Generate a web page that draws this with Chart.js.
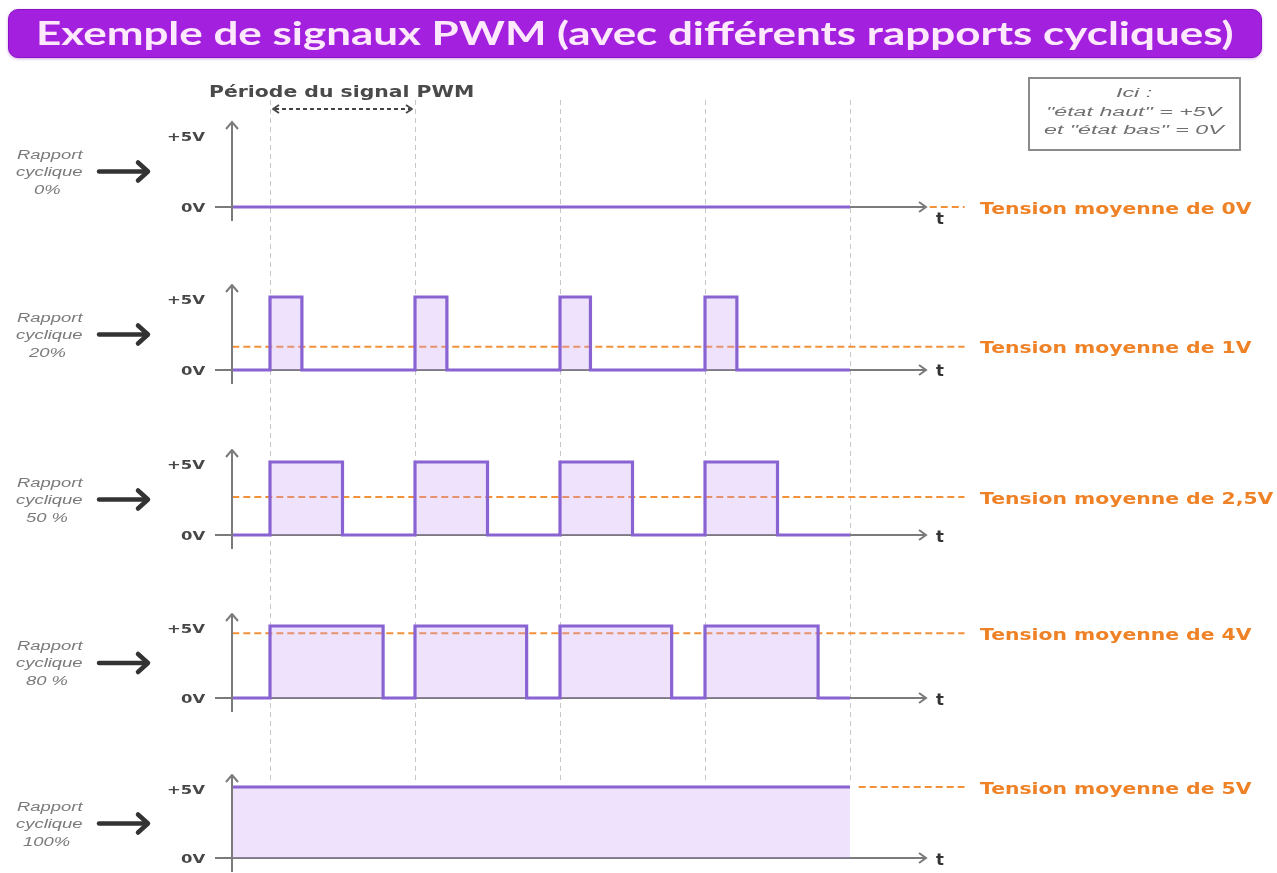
<!DOCTYPE html>
<html lang="fr">
<head>
<meta charset="utf-8">
<title>Exemple de signaux PWM</title>
<script src="https://cdn.jsdelivr.net/npm/chart.js@4.4.1/dist/chart.umd.min.js"></script>
<style>
  html, body { margin: 0; padding: 0; background: #ffffff; overflow: hidden; }
  #wrap { position: relative; width: 1277px; height: 873px; }
  #c { position: absolute; left: 0; top: 0; }
  #overlay { position: absolute; left: 0; top: 0; width: 1277px; height: 873px; pointer-events: none; }
  .txt { position: absolute; white-space: nowrap; line-height: 1.2; transform-origin: 0 50%; }
  .title { font-family: Lato, "Open Sans", sans-serif; font-weight: 700; font-size: 32px; color: #fde8fc; }
  .bar { position: absolute; left: 8px; top: 9px; width: 1252px; height: 47px; background: #a320de;
         border: 1px solid #8c12c6; border-radius: 10px; box-shadow: 0 1px 3px rgba(120,0,160,0.35); }
  .period { font-family: "DejaVu Sans", sans-serif; font-weight: 700; font-size: 15px; color: #4a4a4a; }
  .side { font-family: "Liberation Sans", sans-serif; font-style: italic; font-size: 12px; color: #7a7a7a; }
  .tick { font-family: "DejaVu Sans", sans-serif; font-weight: 700; font-size: 13px; color: #474747; }
  .tlab { font-family: "DejaVu Sans", sans-serif; font-weight: 700; font-size: 15px; color: #333333; }
  .mean { font-family: "DejaVu Sans", sans-serif; font-weight: 700; font-size: 16px; color: #ef8226; }
  .note { font-family: "Liberation Sans", sans-serif; font-style: italic; font-size: 12px; color: #707070; }
  .box { position: absolute; left: 1028px; top: 77px; width: 209px; height: 70px; border: 2px solid #8a8a8a; background: #fff; }
</style>
</head>
<body>
<div id="wrap">
  <canvas id="c" width="1277" height="873"></canvas>
  <div id="overlay"></div>
</div>
<script>
// ---------------- DATA ----------------
const titleText = 'Exemple de signaux PWM (avec différents rapports cycliques)';
const periodText = 'Période du signal PWM';
const noteLines = ['Ici :', '"état haut" = +5V', 'et "état bas" = 0V'];
const dutyLabels = ['0%', '20%', '50 %', '80 %', '100%'];
const meanLabels = ['Tension moyenne de 0V', 'Tension moyenne de 1V', 'Tension moyenne de 2,5V', 'Tension moyenne de 4V', 'Tension moyenne de 5V'];
const yTickValues = [0, 5];
const yTickLabels = ['0V', '+5V'];
const periodTicks = [0, 1, 2, 3, 4];

// signal step points: [time (in periods), level (V)]
const signal0   = [[-0.26, 0], [4, 0]];
const signal20  = [[-0.26, 0], [0, 5], [0.22, 0], [1, 5], [1.22, 0], [2, 5], [2.21, 0], [3, 5], [3.22, 0], [4, 0]];
const signal50  = [[-0.26, 0], [0, 5], [0.5, 0], [1, 5], [1.5, 0], [2, 5], [2.5, 0], [3, 5], [3.5, 0], [4, 0]];
const signal80  = [[-0.26, 0], [0, 5], [0.78, 0], [1, 5], [1.77, 0], [2, 5], [2.77, 0], [3, 5], [3.78, 0], [4, 0]];
const signal100 = [[-0.26, 5], [4, 5]];
const signals = [signal0, signal20, signal50, signal80, signal100];

// mean voltage dashed lines as drawn: level, start time, end time
const meanLevels = [0, 1.6, 2.6, 4.5, 5];
const meanStart  = [4.55, -0.26, -0.26, -0.26, 4.06];
const meanEnd    = [4.79, 4.79, 4.79, 4.79, 4.79];

// ---------------- LAYOUT (pixels) ----------------
const W = 1277, H = 873;
const X_AXIS_PX = 232, X_RIGHT_PX = 970, T0_PX = 270, PERIOD_PX = 145;
const ZERO_PX = [207, 370, 535, 698, 858];
const FIVE_PX = [134, 297, 462, 626, 787];
const GRID_TOP = 100, GRID_BOTTOM = 780;
const AXIS_TIP_PX = 926;
const T_DY = [12, 1, 2, 2, 2];

const COL_SIGNAL = '#8a63d2';
const COL_FILL = 'rgba(196, 150, 246, 0.28)';
const COL_MEAN = '#f2913a';
const COL_AXIS = '#7b7b7b';

const xMin = (X_AXIS_PX - T0_PX) / PERIOD_PX;
const xMax = (X_RIGHT_PX - T0_PX) / PERIOD_PX;

const scales = {
  x: { type: 'linear', min: xMin, max: xMax, display: false }
};
ZERO_PX.forEach((z, i) => {
  const range = 5 * H / (z - FIVE_PX[i]);
  const min = -(H - z) / H * range;
  scales['y' + i] = { type: 'linear', min: min, max: min + range, display: false };
});

const datasets = [];
signals.forEach((s, i) => {
  datasets.push({
    label: 'Rapport cyclique ' + dutyLabels[i],
    data: s.map(p => ({ x: p[0], y: p[1] })),
    yAxisID: 'y' + i,
    stepped: true,
    borderColor: COL_SIGNAL,
    borderWidth: 3.2,
    backgroundColor: COL_FILL,
    fill: 'origin',
    pointRadius: 0,
    borderJoinStyle: 'miter',
    order: 1
  });
  datasets.push({
    label: meanLabels[i],
    data: [{ x: meanStart[i], y: meanLevels[i] }, { x: meanEnd[i], y: meanLevels[i] }],
    yAxisID: 'y' + i,
    borderColor: COL_MEAN,
    borderWidth: 2,
    borderDash: [7, 4],
    pointRadius: 0,
    fill: false,
    order: 2
  });
});

const decor = {
  id: 'decor',
  beforeDatasetsDraw(chart) {
    const ctx = chart.ctx, xs = chart.scales.x;
    ctx.save();
    // vertical dashed period lines
    ctx.strokeStyle = '#c8c8c8';
    ctx.lineWidth = 1;
    ctx.setLineDash([5, 4]);
    periodTicks.forEach(t => {
      const x = Math.round(xs.getPixelForValue(t)) + 0.5;
      ctx.beginPath(); ctx.moveTo(x, GRID_TOP); ctx.lineTo(x, GRID_BOTTOM); ctx.stroke();
    });
    ctx.setLineDash([]);
    // horizontal time axes with arrow
    ctx.strokeStyle = COL_AXIS;
    ctx.lineWidth = 2;
    signals.forEach((s, i) => {
      const y0 = Math.round(chart.scales['y' + i].getPixelForValue(0));
      ctx.beginPath();
      ctx.moveTo(xs.left - 17, y0); ctx.lineTo(AXIS_TIP_PX, y0); ctx.stroke();
      ctx.beginPath();
      ctx.moveTo(AXIS_TIP_PX - 7, y0 - 5); ctx.lineTo(AXIS_TIP_PX, y0); ctx.lineTo(AXIS_TIP_PX - 7, y0 + 5); ctx.stroke();
    });
    ctx.restore();
  },
  afterDatasetsDraw(chart) {
    const ctx = chart.ctx, xs = chart.scales.x;
    ctx.save();
    const ax = xs.left;
    signals.forEach((s, i) => {
      const ys = chart.scales['y' + i];
      const y0 = ys.getPixelForValue(0), y5 = ys.getPixelForValue(5);
      // vertical voltage axis with arrow
      ctx.strokeStyle = COL_AXIS;
      ctx.lineWidth = 2;
      ctx.beginPath(); ctx.moveTo(ax, y0 + 14); ctx.lineTo(ax, y5 - 12); ctx.stroke();
      ctx.beginPath();
      ctx.moveTo(ax - 6, y5 - 5); ctx.lineTo(ax, y5 - 12); ctx.lineTo(ax + 6, y5 - 5); ctx.stroke();
      // black pointer arrow on the left
      const my = (y0 + y5) / 2 + 1;
      ctx.strokeStyle = '#333333';
      ctx.lineWidth = 4.5;
      ctx.lineCap = 'round';
      ctx.lineJoin = 'round';
      ctx.beginPath(); ctx.moveTo(99, my); ctx.lineTo(147, my); ctx.stroke();
      ctx.beginPath(); ctx.moveTo(138, my - 9); ctx.lineTo(148, my); ctx.lineTo(138, my + 9); ctx.stroke();
      ctx.lineCap = 'butt';
    });
    // period double arrow
    const px0 = xs.getPixelForValue(periodTicks[0]) + 3, px1 = xs.getPixelForValue(periodTicks[1]) - 3, py = 109;
    ctx.strokeStyle = '#444444';
    ctx.lineWidth = 1.8;
    ctx.setLineDash([4, 3]);
    ctx.beginPath(); ctx.moveTo(px0 + 2, py); ctx.lineTo(px1 - 2, py); ctx.stroke();
    ctx.setLineDash([]);
    ctx.beginPath(); ctx.moveTo(px0 + 6, py - 4); ctx.lineTo(px0, py); ctx.lineTo(px0 + 6, py + 4); ctx.stroke();
    ctx.beginPath(); ctx.moveTo(px1 - 6, py - 4); ctx.lineTo(px1, py); ctx.lineTo(px1 - 6, py + 4); ctx.stroke();
    ctx.restore();
  }
};

const chart = new Chart(document.getElementById('c'), {
  type: 'line',
  data: { datasets: datasets },
  options: {
    responsive: false,
    animation: false,
    events: [],
    layout: { padding: { left: X_AXIS_PX, right: W - X_RIGHT_PX, top: 0, bottom: 0 } },
    scales: scales,
    plugins: { legend: { display: false }, tooltip: { enabled: false }, title: { display: false } }
  },
  plugins: [decor]
});

// ---------------- TEXT (real HTML text) ----------------
const overlay = document.getElementById('overlay');
function makeText(txt, cls) {
  const el = document.createElement('div');
  el.className = 'txt ' + cls;
  el.textContent = txt;
  overlay.appendChild(el);
  return el;
}
function place(el, x, y, align, sx) {
  const w = el.offsetWidth, h = el.offsetHeight;
  const ww = w * sx;
  const left = align === 'left' ? x : (align === 'right' ? x - ww : x - ww / 2);
  el.style.left = left + 'px';
  el.style.top = (y - h / 2) + 'px';
  el.style.transform = 'scaleX(' + sx + ')';
}
function scaleFor(sample, cls, target) {
  const el = makeText(sample, cls);
  const s = target / el.offsetWidth;
  el.remove();
  return s;
}

function buildText() {
  const bar = document.createElement('div');
  bar.className = 'bar';
  overlay.appendChild(bar);
  const t = makeText(titleText, 'title');
  place(t, 634, 33, 'center', scaleFor(titleText, 'title', 1197));

  const p = makeText(periodText, 'period');
  place(p, 209, 92, 'left', scaleFor(periodText, 'period', 265));

  const box = document.createElement('div');
  box.className = 'box';
  overlay.appendChild(box);
  const ns = scaleFor(noteLines[1], 'note', 176);
  [93, 112, 130].forEach((y, k) => place(makeText(noteLines[k], 'note'), 1134, y, 'center', ns));

  const sideS = scaleFor('Rapport', 'side', 66);
  const tickS = scaleFor('+5V', 'tick', 38);
  const meanS = scaleFor(meanLabels[0], 'mean', 272);
  signals.forEach((s, i) => {
    const ys = chart.scales['y' + i];
    const y0 = ys.getPixelForValue(0), y5 = ys.getPixelForValue(5);
    const my = (y0 + y5) / 2 + 1;
    place(makeText('Rapport', 'side'), 50, my - 17, 'center', sideS);
    place(makeText('cyclique', 'side'), 49, my, 'center', sideS);
    place(makeText(dutyLabels[i], 'side'), 47, my + 18, 'center', sideS);
    yTickValues.forEach((v, k) => {
      const yy = ys.getPixelForValue(v) + (v === 0 ? 1 : 3);
      place(makeText(yTickLabels[k], 'tick'), 205, yy, 'right', tickS);
    });
    place(makeText('t', 'tlab'), 936, y0 + T_DY[i], 'left', 1.1);
    place(makeText(meanLabels[i], 'mean'), 980, ys.getPixelForValue(meanLevels[i]) + 1, 'left', meanS);
  });
}
buildText();
</script>
</body>
</html>
